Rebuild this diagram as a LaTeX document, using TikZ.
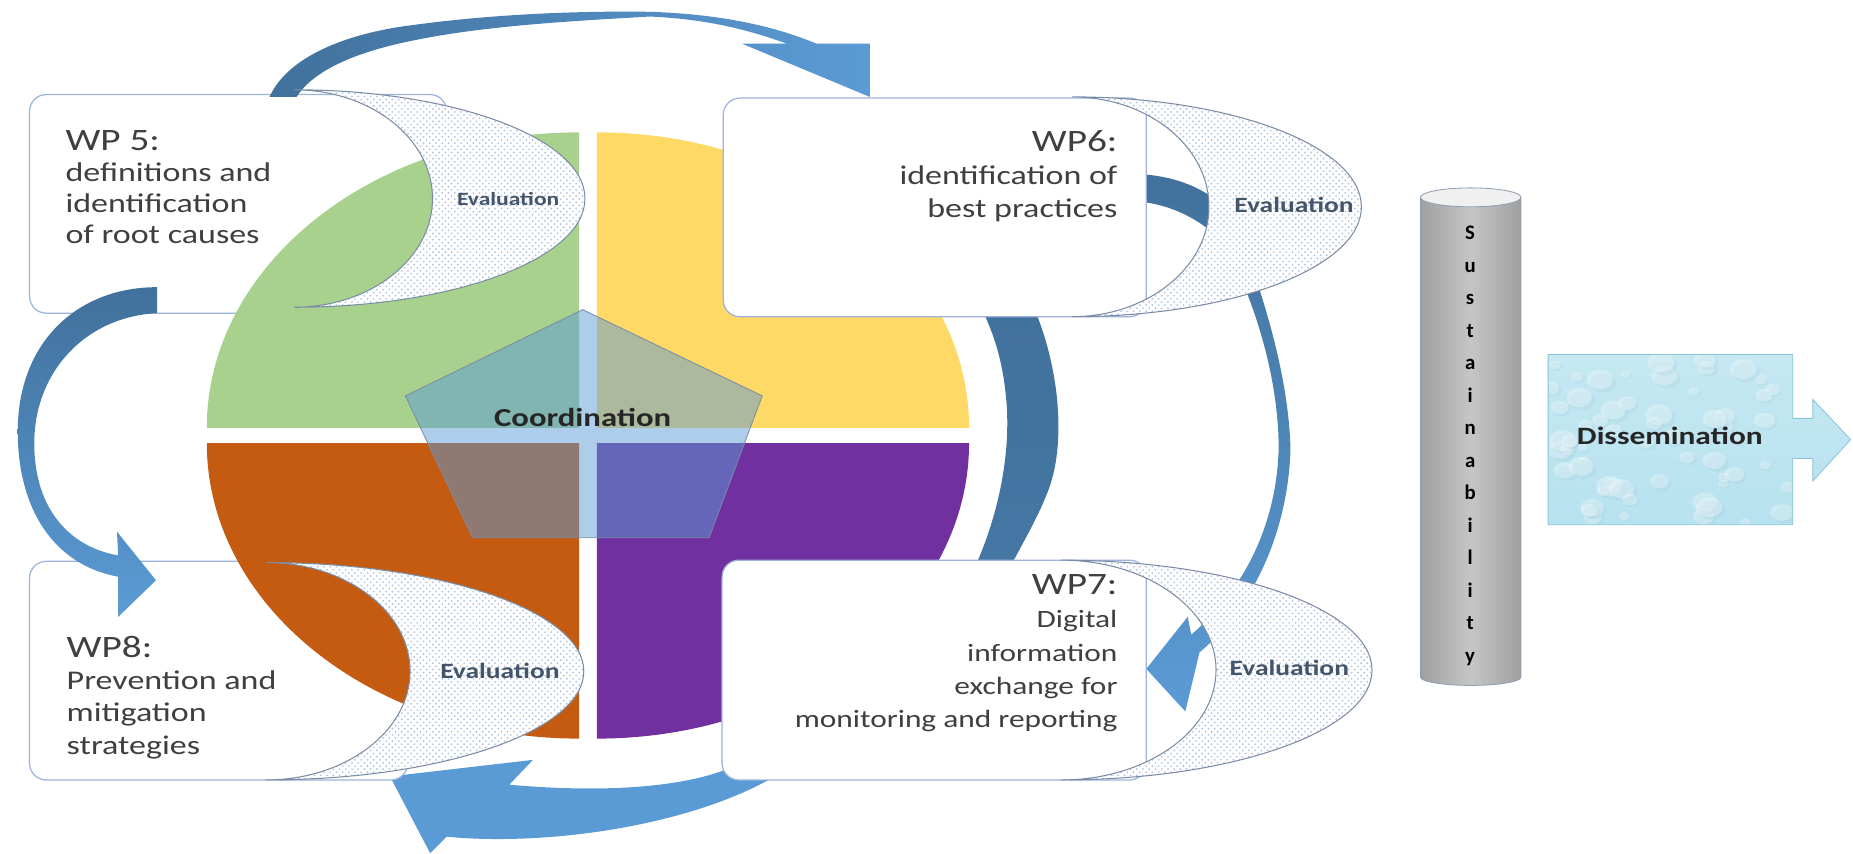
\documentclass[tikz,border=0pt]{standalone}
\usepackage{fontspec}
\setmainfont{Carlito}
\usetikzlibrary{patterns,calc}

\definecolor{wpgreen}{HTML}{A9D18E}
\definecolor{wpyellow}{HTML}{FFD966}
\definecolor{wporange}{HTML}{C55A11}
\definecolor{wppurple}{HTML}{7030A0}
\definecolor{arrowdark}{HTML}{41719C}
\definecolor{arrowlight}{HTML}{5B9BD5}
\definecolor{boxline}{HTML}{9DB3DC}
\definecolor{moonline}{HTML}{7A8CA5}
\definecolor{moondots}{HTML}{B3C6E0}
\definecolor{evaltext}{HTML}{44546A}
\definecolor{wptext}{HTML}{3F3F3F}
\definecolor{waterblue}{HTML}{B7E2EF}
\definecolor{waterline}{HTML}{8CC3D6}
\definecolor{pillarline}{HTML}{8E9EB3}

\begin{document}
\begin{tikzpicture}[x=0.02cm, y=0.02cm,
    wpbox/.style={draw=boxline, fill=white, line width=0.6pt, rounded corners=8pt},
    wptxt/.style={inner sep=0pt, xscale=1.26, text=wptext, font=\fontsize{13}{15}\selectfont},
    moon/.style={draw=moonline, line width=0.5pt, preaction={fill=white}, pattern=crosshatch dots, pattern color=moondots},
    evaltxt/.style={inner sep=0pt, xscale=1.26, text=evaltext, font=\bfseries\fontsize{10.5}{12}\selectfont},
    letter/.style={inner sep=0pt, text height=1.5ex, text depth=0.3ex, font=\bfseries\fontsize{10}{10}\selectfont}
]
    \useasboundingbox (0,0) rectangle (1568,-722);

    % bands that run behind the work package boxes
    \shade[top color=arrowdark, bottom color=arrowdark!85!arrowlight] (870,-250) .. controls (895,-300) and (905,-375) .. (885,-420) .. controls (875,-445) and (860,-468) .. (850,-490) -- (820,-490) .. controls (838,-455) and (855,-400) .. (852,-345) .. controls (849,-300) and (838,-275) .. (825,-250) -- cycle;
    \shade[top color=arrowdark, bottom color=arrowlight] (958,-147) .. controls (995,-148) and (1025,-160) .. (1045,-185) .. controls (1055,-215) and (1090,-300) .. (1092,-380) .. controls (1090,-450) and (1060,-515) .. (1015,-552) -- (1003,-602) -- (970,-566) -- (1005,-522) -- (1008,-537) .. controls (1052,-500) and (1080,-445) .. (1082,-380) .. controls (1082,-310) and (1055,-240) .. (1035,-205) .. controls (1015,-185) and (990,-172) .. (958,-170) -- cycle;
    \fill[arrowlight] (720,-608) .. controls (680,-635) and (650,-648) .. (612,-652) .. controls (580,-664) and (520,-672) .. (431,-664) -- (451,-643) -- (330,-657) -- (364,-722) -- (378,-708) .. controls (460,-716) and (580,-700) .. (654,-658) -- (740,-620) -- cycle;

    % left boxes lie under the pie
    \node[wpbox, minimum width=7.06cm, minimum height=3.7cm] (b5) at (201.5,-172.5) {};
    \node[wpbox, minimum width=6.4cm, minimum height=3.7cm] (b8) at (185,-567.5) {};

    % pie
    \fill[wpgreen] (490,-362) -- (175,-362) arc[start angle=180, end angle=90, x radius=315, y radius=250] -- cycle;
    \fill[wpyellow] (505,-362) -- (820,-362) arc[start angle=0, end angle=90, x radius=315, y radius=250] -- cycle;
    \fill[wporange] (490,-375) -- (175,-375) arc[start angle=180, end angle=270, x radius=315, y radius=250] -- cycle;
    \fill[wppurple] (505,-375) -- (820,-375) arc[start angle=0, end angle=-90, x radius=315, y radius=250] -- cycle;

    % right boxes lie over the pie
    \node[wpbox, minimum width=7.16cm, minimum height=3.7cm] (b6) at (791,-175.5) {};
    \node[wpbox, minimum width=7.18cm, minimum height=3.72cm] (b7) at (790.5,-567) {};

    \filldraw[fill=arrowlight, fill opacity=0.5, draw=moonline, line width=0.4pt] (493,-262) -- (645,-335) -- (600,-455) -- (400,-455) -- (343,-335) -- cycle;
    \node[inner sep=0pt, xscale=1.26, font=\bfseries\fontsize{12.5}{14}\selectfont, text=black!85] (coord) at (493,-353) {Coordination};

    \node[wptxt, anchor=north west, align=left] (t5) at (55,-110) {{\fontsize{15}{15}\selectfont WP 5:}\\definitions and\\identification\\of root causes};
    \node[wptxt, anchor=north east, align=right, font=\fontsize{13}{16}\selectfont] (t6) at (946,-110) {{\fontsize{15}{16}\selectfont WP6:}\\identification of\\best practices};
    \node[wptxt, anchor=north east, align=right, font=\fontsize{12}{16}\selectfont] (t7) at (946,-486) {{\fontsize{15}{16}\selectfont WP7:}\\Digital\\information\\exchange for\\monitoring and reporting};
    \node[wptxt, anchor=north west, align=left, font=\fontsize{13}{15.5}\selectfont] (t8) at (56,-538) {{\fontsize{15}{15.5}\selectfont WP8:}\\Prevention and\\mitigation\\strategies};

    % curved arrows between the work packages
    \shade[left color=arrowdark, right color=arrowlight] (228,-82) .. controls (245,-45) and (300,-27) .. (351,-21) .. controls (410,-13) and (480,-9) .. (550,-10) .. controls (610,-12) and (655,-22) .. (691,-37) -- (736,-37) -- (736,-82) -- (628,-37) -- (666,-37) .. controls (630,-24) and (595,-16) .. (550,-14) .. controls (480,-18) and (410,-22) .. (351,-34) .. controls (300,-44) and (265,-60) .. (251,-82) -- cycle;
    \shade[top color=arrowdark, bottom color=arrowlight] (133,-243) -- (133,-265) .. controls (72,-268) and (29,-315) .. (29,-375) .. controls (29,-432) and (60,-463) .. (100,-470) -- (99,-450) -- (132,-491) -- (100,-522) -- (100,-488) .. controls (45,-478) and (15,-430) .. (15,-365) .. controls (15,-290) and (65,-243) .. (133,-243) -- cycle;

    % evaluation crescents
    \draw[moon] (249,-76) arc[start angle=90, end angle=-90, x radius=246, y radius=92] arc[start angle=-90, end angle=90, x radius=117, y radius=92] -- cycle;
    \draw[moon] (907,-82) arc[start angle=90, end angle=-90, x radius=245, y radius=93] arc[start angle=-90, end angle=90, x radius=116, y radius=93] -- cycle;
    \draw[moon] (898,-474) arc[start angle=90, end angle=-90, x radius=263, y radius=93] arc[start angle=-90, end angle=90, x radius=131, y radius=93] -- cycle;
    \draw[moon] (225,-476) arc[start angle=90, end angle=-90, x radius=269, y radius=92] arc[start angle=-90, end angle=90, x radius=122, y radius=92] -- cycle;
    \node[evaltxt, font=\bfseries\fontsize{9}{10}\selectfont] (e5) at (430,-168) {Evaluation};
    \node[evaltxt] (e6) at (1095,-173) {Evaluation};
    \node[evaltxt] (e7) at (1091,-565) {Evaluation};
    \node[evaltxt] (e8) at (423,-568) {Evaluation};

    % sustainability pillar
    \shade[left color=gray!75, right color=gray!75, middle color=gray!45, draw=pillarline] (1202,-167) -- (1202,-573) arc[start angle=180, end angle=360, x radius=42.5, y radius=7] -- (1287,-167) -- cycle;
    \draw[fill=gray!12, draw=pillarline] (1244.5,-167) ellipse[x radius=42.5, y radius=8];
    \foreach \ch [count=\i from 0] in {S,u,s,t,a,i,n,a,b,i,l,i,t,y}
        \node[letter] (s\i) at (1244,-198-27.5*\i) {\ch};

    % dissemination
    \shade[top color=waterblue!80, bottom color=waterblue, draw=waterline] (1310,-300) -- (1517,-300) -- (1517,-354) -- (1534,-354) -- (1534,-338) -- (1566,-372) -- (1534,-407) -- (1534,-388) -- (1517,-388) -- (1517,-444) -- (1310,-444) -- cycle;
    \begin{scope}
        \clip (1311,-301) rectangle (1516,-443);
        \pgfmathsetseed{7}
        \foreach \k in {1,...,60} {
            \pgfmathsetmacro\dx{1312+rnd*204}
            \pgfmathsetmacro\dy{-302-rnd*140}
            \pgfmathsetmacro\dr{4+rnd*8}
            \fill[waterline!80, opacity=0.25] (\dx+0.25*\dr,\dy-0.25*\dr) ellipse[x radius=\dr, y radius=0.75*\dr];
            \fill[white, opacity=0.3] (\dx,\dy) ellipse[x radius=\dr, y radius=0.75*\dr];
        }
    \end{scope}
    \node[inner sep=0pt, xscale=1.26, font=\bfseries\fontsize{12}{14}\selectfont, text=black!85] (dis) at (1413,-369) {Dissemination};
\end{tikzpicture}
\end{document}
